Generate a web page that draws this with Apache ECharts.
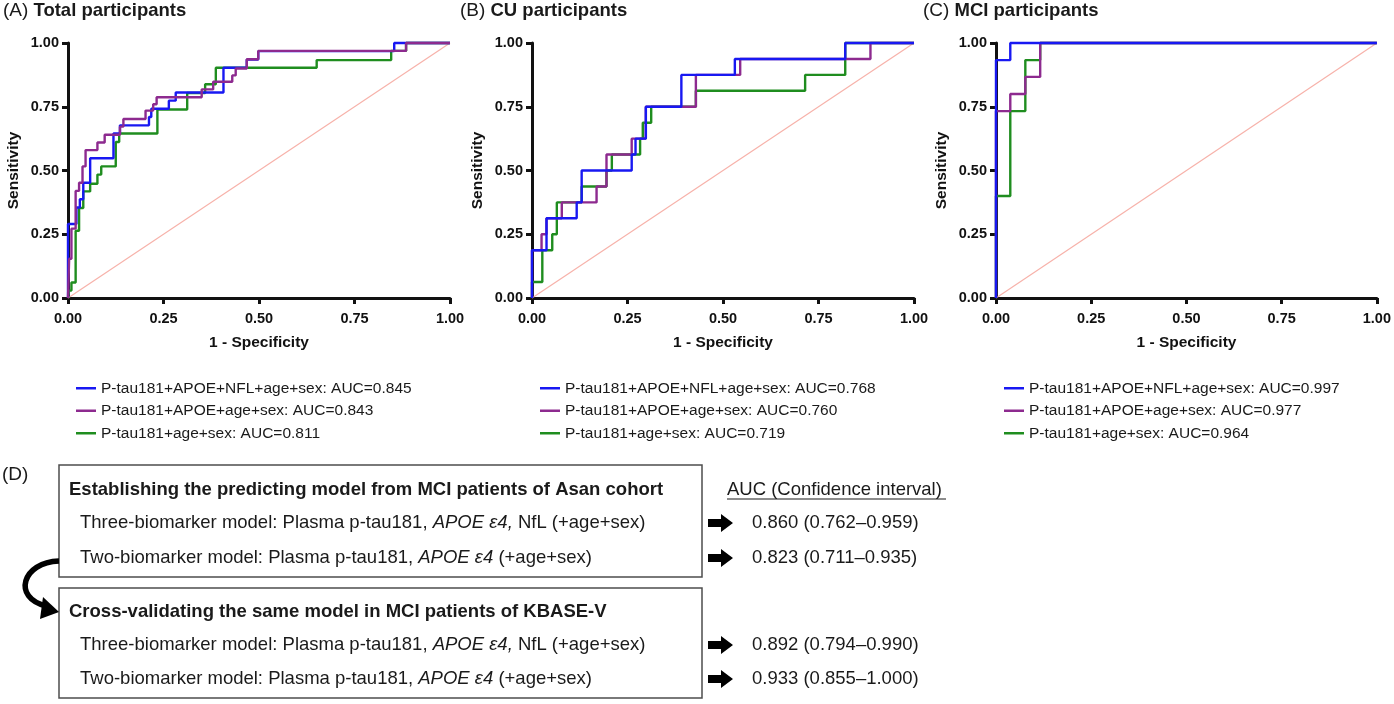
<!DOCTYPE html>
<html>
<head>
<meta charset="utf-8">
<script src="https://cdn.jsdelivr.net/npm/echarts@6/dist/echarts.min.js"></script>
<style>
  html, body { margin: 0; padding: 0; background: #fff; }
  #chart { width: 1394px; height: 704px; }
</style>
</head>
<body>
<div id="chart"></div>
<script>
// ROC points: [1 - specificity, sensitivity], one point per vertical rise
var totalNfl = [[0,0],[0,0.29],[0.022,0.355],[0.031,0.387],[0.040,0.452],[0.058,0.548],[0.119,0.645],[0.136,0.677],[0.212,0.71],[0.218,0.742],[0.264,0.774],[0.282,0.806],[0.407,0.903],[0.468,0.935],[0.498,0.968],[0.854,1],[1,1]]
var totalApoe = [[0,0],[0.003,0.154],[0.009,0.272],[0.02,0.42],[0.029,0.452],[0.038,0.516],[0.046,0.58],[0.077,0.61],[0.096,0.64],[0.136,0.672],[0.145,0.702],[0.203,0.735],[0.223,0.76],[0.232,0.787],[0.35,0.818],[0.38,0.848],[0.43,0.873],[0.439,0.9],[0.468,0.936],[0.498,0.969],[0.885,1],[1,1]]
var totalTau = [[0,0],[0.003,0.029],[0.009,0.061],[0.02,0.264],[0.029,0.353],[0.04,0.418],[0.058,0.448],[0.077,0.484],[0.087,0.516],[0.125,0.612],[0.134,0.645],[0.234,0.739],[0.312,0.804],[0.359,0.838],[0.387,0.903],[0.651,0.933],[0.846,0.969],[0.885,1],[1,1]]

var cuNfl = [[0,0],[0,0.1875],[0.038,0.3125],[0.117,0.375],[0.13,0.5],[0.261,0.5625],[0.271,0.625],[0.298,0.75],[0.391,0.875],[0.531,0.9375],[0.82,1],[1,1]]
var cuApoe = [[0,0],[0,0.1875],[0.025,0.25],[0.038,0.3125],[0.078,0.375],[0.169,0.4375],[0.195,0.5625],[0.261,0.625],[0.298,0.75],[0.429,0.875],[0.545,0.9375],[0.886,1],[1,1]]
var cuTau = [[0,0],[0,0.0625],[0.027,0.1875],[0.053,0.25],[0.065,0.375],[0.13,0.4375],[0.195,0.5],[0.209,0.5625],[0.283,0.625],[0.29,0.6875],[0.312,0.75],[0.429,0.8125],[0.715,0.875],[0.82,1],[1,1]]

var mciNfl = [[0,0],[0,0.933],[0.0375,1],[1,1]]
var mciApoe = [[0,0],[0,0.733],[0.0375,0.8],[0.077,0.867],[0.116,1],[1,1]]
var mciTau = [[0,0],[0,0.4],[0.0375,0.733],[0.077,0.933],[0.116,1],[1,1]]

var chance = [[0,0],[1,1]]
var tickValues = [0, 0.25, 0.5, 0.75, 1]

var legendA = ['P-tau181+APOE+NFL+age+sex: AUC=0.845', 'P-tau181+APOE+age+sex: AUC=0.843', 'P-tau181+age+sex: AUC=0.811']
var legendB = ['P-tau181+APOE+NFL+age+sex: AUC=0.768', 'P-tau181+APOE+age+sex: AUC=0.760', 'P-tau181+age+sex: AUC=0.719']
var legendC = ['P-tau181+APOE+NFL+age+sex: AUC=0.997', 'P-tau181+APOE+age+sex: AUC=0.977', 'P-tau181+age+sex: AUC=0.964']

var panelLetters = ['(A)', '(B)', '(C)']
var panelTitles = ['Total participants', 'CU participants', 'MCI participants']

var aucResults = ['0.860 (0.762–0.959)', '0.823 (0.711–0.935)', '0.892 (0.794–0.990)', '0.933 (0.855–1.000)']

var FONT = '"Liberation Sans", Arial, sans-serif'
var BLUE = '#1818f2'
var PURPLE = '#8d2a8f'
var GREEN = '#1f8d1f'

var myChart = echarts.init(document.getElementById('chart'))

var panels = [
  { left: 68, data: [totalNfl, totalApoe, totalTau], names: legendA, order: [2, 0, 1] },
  { left: 532, data: [cuNfl, cuApoe, cuTau], names: legendB, order: [2, 1, 0] },
  { left: 996, data: [mciNfl, mciApoe, mciTau], names: legendC, order: [2, 1, 0] }
]
var colors = [BLUE, PURPLE, GREEN]

var grids = [], xAxes = [], yAxes = [], series = [], legends = []
panels.forEach(function (p, i) {
  grids.push({ left: p.left, top: 43, width: 382, height: 255 })
  var lbl = {
    fontFamily: FONT, fontWeight: 'bold', fontSize: 14.5, color: '#111',
    formatter: function (v) { return v.toFixed(2) }
  }
  var line = { show: true, onZero: false, lineStyle: { color: '#111', width: 3 } }
  var tick = { show: true, length: 6, lineStyle: { color: '#111', width: 3 } }
  xAxes.push({
    gridIndex: i, type: 'value', min: tickValues[0], max: tickValues[4], interval: tickValues[1],
    axisLine: line, axisTick: tick, splitLine: { show: false },
    axisLabel: Object.assign({ margin: 13 }, lbl),
    name: '1 - Specificity', nameLocation: 'middle', nameGap: 37,
    nameTextStyle: { fontFamily: FONT, fontWeight: 'bold', fontSize: 15.5, color: '#111' }
  })
  yAxes.push({
    gridIndex: i, type: 'value', min: tickValues[0], max: tickValues[4], interval: tickValues[1],
    axisLine: line, axisTick: tick, splitLine: { show: false },
    axisLabel: Object.assign({ margin: 9 }, lbl),
    name: 'Sensitivity', nameLocation: 'middle', nameGap: 46,
    nameTextStyle: { fontFamily: FONT, fontWeight: 'bold', fontSize: 15.5, color: '#111' }
  })
  // diagonal reference line
  series.push({
    type: 'line', xAxisIndex: i, yAxisIndex: i, data: chance, symbol: 'none', silent: true,
    lineStyle: { color: '#f7b2aa', width: 1.2 }, clip: false
  })
  p.order.forEach(function (k) {
    series.push({
      type: 'line', name: p.names[k], xAxisIndex: i, yAxisIndex: i, data: p.data[k],
      step: 'end', symbol: 'none', showSymbol: false, clip: false,
      lineStyle: { color: colors[k], width: 2.4 }, itemStyle: { color: colors[k] },
      emphasis: { disabled: true }
    })
  })
  legends.push({
    data: p.names, orient: 'vertical', left: p.left + 8, top: 377, padding: 0,
    icon: 'rect', itemWidth: 20, itemHeight: 2.5, itemGap: 0, selectedMode: false,
    textStyle: { fontFamily: FONT, fontSize: 15.5, color: '#1a1a1a', lineHeight: 22.5 }
  })
})

// panel titles and panel (D) drawn as graphics
var graphics = []
panels.forEach(function (p, i) {
  var x0 = [3, 460, 923][i]
  graphics.push({
    type: 'text', left: x0, top: 1,
    style: {
      text: '{a|' + panelLetters[i] + '}{b| ' + panelTitles[i] + '}',
      rich: {
        a: { fontFamily: FONT, fontSize: 19, fill: '#1a1a1a' },
        b: { fontFamily: FONT, fontSize: 18.5, fontWeight: 'bold', fill: '#1a1a1a' }
      }
    }
  })
})

var dText = { fontFamily: FONT, fontSize: 18.5, fill: '#1a1a1a' }
function rowText(x, y, str) {
  return {
    type: 'text', x: x, y: y,
    style: {
      text: str, verticalAlign: 'middle',
      rich: {
        n: dText,
        i: Object.assign({}, dText, { fontStyle: 'italic' })
      }
    }
  }
}
function blockArrow(y) {
  return {
    type: 'polygon', x: 708, y: y,
    shape: { points: [[0, -4], [13, -4], [13, -9], [25, 0], [13, 9], [13, 4], [0, 4]] },
    style: { fill: '#000' }
  }
}

var three = '{n|Three-biomarker model: Plasma p-tau181, }{i|APOE ε4,}{n| NfL (+age+sex)}'
var two = '{n|Two-biomarker model: Plasma p-tau181, }{i|APOE ε4}{n| (+age+sex)}'
var rowsY = [523, 558, 645, 679]

graphics.push(
  { type: 'text', x: 2, y: 475, style: { text: '(D)', verticalAlign: 'middle', fontFamily: FONT, fontSize: 19, fill: '#1a1a1a' } },
  { type: 'rect', shape: { x: 59, y: 465, width: 643, height: 112 }, style: { fill: 'none', stroke: '#4d4d4d', lineWidth: 1.5 } },
  { type: 'rect', shape: { x: 59, y: 588, width: 643, height: 110 }, style: { fill: 'none', stroke: '#4d4d4d', lineWidth: 1.5 } },
  { type: 'text', x: 69, y: 490, style: { text: 'Establishing the predicting model from MCI patients of Asan cohort', verticalAlign: 'middle', fontFamily: FONT, fontSize: 18.5, fontWeight: 'bold', fill: '#1a1a1a' } },
  { type: 'text', x: 69, y: 612, style: { text: 'Cross-validating the same model in MCI patients of KBASE-V', verticalAlign: 'middle', fontFamily: FONT, fontSize: 18.5, fontWeight: 'bold', fill: '#1a1a1a' } },
  rowText(80, rowsY[0], three),
  rowText(80, rowsY[1], two),
  rowText(80, rowsY[2], three),
  rowText(80, rowsY[3], two),
  { type: 'text', x: 727, y: 490, style: { text: 'AUC (Confidence interval)', verticalAlign: 'middle', fontFamily: FONT, fontSize: 18.5, fill: '#1a1a1a' } },
  { type: 'line', shape: { x1: 727, y1: 499, x2: 946, y2: 499 }, style: { stroke: '#1a1a1a', lineWidth: 1.2 } },
  // curved arrow between the two boxes
  { type: 'bezierCurve', shape: { x1: 59, y1: 561, cpx1: 22, cpy1: 562, cpx2: 12, cpy2: 598, x2: 46, y2: 606 }, style: { stroke: '#000', lineWidth: 5.5, fill: 'none' } },
  { type: 'polygon', shape: { points: [[59, 612], [43, 597], [40, 619]] }, style: { fill: '#000' } }
)
rowsY.forEach(function (y, k) {
  graphics.push(blockArrow(y))
  graphics.push({ type: 'text', x: 752, y: y, style: { text: aucResults[k], verticalAlign: 'middle', fontFamily: FONT, fontSize: 18.5, fill: '#1a1a1a' } })
})

var option = {
  animation: false,
  backgroundColor: '#fff',
  grid: grids,
  xAxis: xAxes,
  yAxis: yAxes,
  legend: legends,
  series: series,
  graphic: { elements: graphics }
}
myChart.setOption(option)
</script>
</body>
</html>
